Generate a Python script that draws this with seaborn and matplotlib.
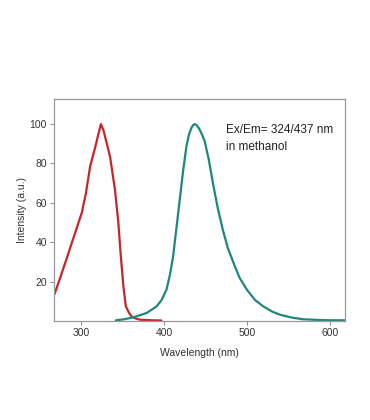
import seaborn as sns
import numpy as np
import matplotlib.pyplot as plt
import pandas as pd

# Excitation / emission spectra
ex_wavelength = [268, 275, 281, 290, 301, 306, 311, 317, 321, 324, 327, 330, 335, 341, 345, 348, 351, 354, 358, 361, 366, 371, 385, 397]
ex_intensity = [13.5, 22, 29.5, 41, 55, 65, 78.5, 88, 95, 100, 97, 92, 83.5, 66.5, 50, 33, 18, 7.5, 4, 2.2, 1.2, 0.6, 0.3, 0.2]

em_wavelength = [342, 352, 363, 379, 391, 397, 403, 407, 411, 415, 419, 423, 427, 430, 433, 435, 437, 439, 442, 445, 449, 454, 459, 465, 471, 477, 484, 491, 500, 510, 520, 530, 540, 555, 568, 585, 600, 618]
em_intensity = [0.3, 0.8, 1.8, 4, 7.3, 10.5, 15.8, 23, 32.7, 47, 61.5, 76, 88.5, 94.5, 98, 99.4, 100, 99.6, 98, 95.5, 91.5, 82, 70, 57, 46.2, 37, 29.3, 22, 15.8, 10.5, 7.3, 4.8, 3.1, 1.6, 0.8, 0.5, 0.3, 0.3]

annotation = "Ex/Em= 324/437 nm\nin methanol"

df = pd.concat([
    pd.DataFrame({"wavelength": ex_wavelength, "intensity": ex_intensity, "spectrum": "ex"}),
    pd.DataFrame({"wavelength": em_wavelength, "intensity": em_intensity, "spectrum": "em"}),
])

sns.set_style("white")
plt.rcParams['font.family'] = ['Liberation Sans', 'DejaVu Sans']

fig = plt.figure(figsize=(3.7, 4.2), dpi=100)
ax = fig.add_axes([0.146, 0.236, 0.786, 0.528])

sns.lineplot(
    data=df,
    x="wavelength",
    y="intensity",
    hue="spectrum",
    palette={"ex": "#C4262B", "em": "#1E877D"},
    linewidth=1.6,
    legend=False,
    ax=ax,
    sort=False,
)

ax.set_xlim(267.5, 618)
ax.set_ylim(0, 112.7)
ax.set_xticks([300, 400, 500, 600])
ax.set_yticks([20, 40, 60, 80, 100])
ax.set_xlabel("Wavelength (nm)", fontsize=7.5, color="#333333", labelpad=7)
ax.set_ylabel("Intensity (a.u.)", fontsize=7.5, color="#333333", labelpad=2)
ax.tick_params(axis="both", direction="out", length=3, width=0.6, color="#777777",
               labelsize=7.5, labelcolor="#333333", pad=2,
               bottom=True, left=True)
for s in ax.spines.values():
    s.set_color("#999999")
    s.set_linewidth(0.9)

ax.text(0.59, 0.89, annotation, transform=ax.transAxes, fontsize=8.5,
        color="#222222", va="top", ha="left", linespacing=1.65)

fig.savefig("out.png", dpi=100)
